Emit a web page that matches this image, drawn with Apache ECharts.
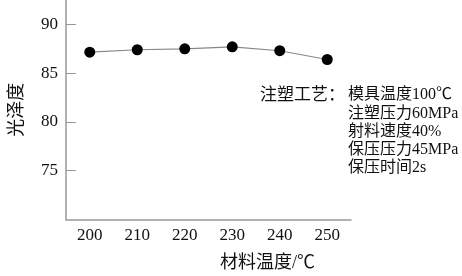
<!DOCTYPE html>
<html><head><meta charset="utf-8">
<script src="https://cdn.jsdelivr.net/npm/echarts@6/dist/echarts.min.js"></script>
<style>html,body{margin:0;padding:0;background:#fff}#c{width:462px;height:276px}</style>
</head><body><div id="c"></div>
<script>
const categories = ['200','210','220','230','240','250'];
const gloss = [87.15, 87.4, 87.5, 87.7, 87.3, 86.4];
const yTicks = [75, 80, 85, 90];
const xName = '材料温度/℃';
const yName = '光泽度';
const noteTitle = '注塑工艺：';
const noteLines = ['模具温度100℃','注塑压力60MPa','射料速度40%','保压压力45MPa','保压时间2s'];

const FONT = '"Liberation Serif","Noto Sans CJK SC",serif';
const chart = echarts.init(document.getElementById('c'));
const axisColor = '#999';
const noteStyle = {fontFamily:FONT, fontSize:16, fill:'#111', rich:{c:{fontFamily:FONT, fontSize:17}, n:{fontFamily:FONT, fontSize:16}}};
function rich(t){ return t.replace(/([^\x00-\x7F℃%：]+)/g,'{c|$1}').replace(/([\x00-\x7F℃%：]+)(?![^{]*\})/g,'{n|$1}'); }
const graphics = [
  {type:'text', left:260, top:87, style:Object.assign({text:noteTitle}, noteStyle, {fontSize:17})},
  {type:'text', left:220, top:254, style:{text:xName, font:'18px '+FONT, fill:'#111', align:'center'}}
];
noteLines.forEach((t,i)=>graphics.push({type:'text', left:348, top:87+i*18.3, style:Object.assign({text:t}, noteStyle)}));
chart.setOption({
  animation:false,
  grid:{left:58, right:111, top:0, bottom:56.5},
  xAxis:{type:'category', data:categories, boundaryGap:true,
    axisLine:{lineStyle:{color:axisColor, width:1.5}},
    axisTick:{inside:true, length:9, alignWithLabel:true, lineStyle:{color:axisColor}},
    axisLabel:{fontFamily:FONT, fontSize:17, color:'#111', margin:8}},
  yAxis:{type:'value', min:70, max:92.5, interval:5,
    name:yName, nameLocation:'middle', nameGap:40,
    nameTextStyle:{fontFamily:FONT, fontSize:18, color:'#111'},
    splitLine:{show:false},
    axisLine:{show:true, lineStyle:{color:axisColor, width:1.5}},
    axisTick:{show:true, inside:true, length:10, customValues:yTicks, lineStyle:{color:axisColor}},
    axisLabel:{fontFamily:FONT, fontSize:17, color:'#111', margin:8, customValues:yTicks,
      formatter:v=>(v%5===0 && v>70)?String(v):''}},
  series:[{type:'line', data:gloss, symbol:'circle', symbolSize:11,
    itemStyle:{color:'#000'}, lineStyle:{color:'#888', width:1.2}}],
  graphic:graphics
});
</script></body></html>
